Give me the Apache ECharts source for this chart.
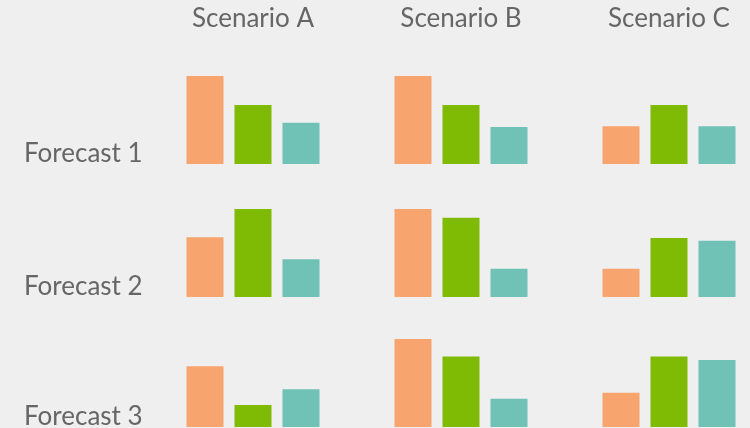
<!DOCTYPE html>
<html>
<head>
<meta charset="utf-8">
<script src="https://cdn.jsdelivr.net/npm/echarts@6/dist/echarts.min.js"></script>
<style>
  html, body { margin: 0; padding: 0; background: #efefef; }
  #chart { width: 750px; height: 428px; }
</style>
</head>
<body>
<div id="chart"></div>
<script>
// Column and row headings
const scenarios = ['Scenario A', 'Scenario B', 'Scenario C'];
const forecasts = ['Forecast 1', 'Forecast 2', 'Forecast 3'];
// Three measures drawn in every cell
const measures = ['M1', 'M2', 'M3'];
const measureColors = ['#F8A46F', '#7FBA05', '#70C2B7'];

// Values per forecast row, one triple per scenario
const forecast1 = [[100, 67, 47], [100, 67, 42], [43, 67, 43]];
const forecast2 = [[68, 100, 43], [100, 90, 32], [32, 67, 64]];
const forecast3 = [[69, 25, 43], [100, 80, 32], [39, 80, 76]];
const rows = [forecast1, forecast2, forecast3];

const valueMax = 100;

// Cell geometry
const colLeft = [181, 389, 597];
const cellWidth = 144;
const rowBaseline = [164, 297, 427];
const cellHeight = 88;
const textColor = '#666666';
const fontFamily = 'Lato';
const fontSize = 26;

const grids = [], xAxes = [], yAxes = [], series = [];
rows.forEach((row, r) => {
  row.forEach((vals, c) => {
    const idx = grids.length;
    grids.push({
      left: colLeft[c],
      width: cellWidth,
      top: rowBaseline[r] - cellHeight,
      height: cellHeight
    });
    xAxes.push({
      type: 'category', gridIndex: idx, data: measures,
      show: false
    });
    yAxes.push({
      type: 'value', gridIndex: idx, min: 0, max: valueMax,
      show: false
    });
    series.push({
      type: 'bar', xAxisIndex: idx, yAxisIndex: idx,
      barWidth: 37,
      silent: true,
      data: vals.map((v, i) => ({ value: v, itemStyle: { color: measureColors[i] } }))
    });
  });
});

const graphics = [];
scenarios.forEach((s, c) => {
  graphics.push({
    type: 'text',
    x: colLeft[c] + cellWidth / 2,
    y: 19,
    style: {
      text: s, fill: textColor, font: fontSize + 'px ' + fontFamily,
      align: 'center', verticalAlign: 'middle'
    }
  });
});
forecasts.forEach((f, r) => {
  graphics.push({
    type: 'text',
    x: 24,
    y: rowBaseline[r] - 10,
    style: {
      text: f, fill: textColor, font: fontSize + 'px ' + fontFamily,
      align: 'left', verticalAlign: 'middle'
    }
  });
});

const chart = echarts.init(document.getElementById('chart'), null, { renderer: 'canvas' });
chart.setOption({
  backgroundColor: '#efefef',
  animation: false,
  grid: grids,
  xAxis: xAxes,
  yAxis: yAxes,
  series: series,
  graphic: graphics
});
</script>
</body>
</html>
